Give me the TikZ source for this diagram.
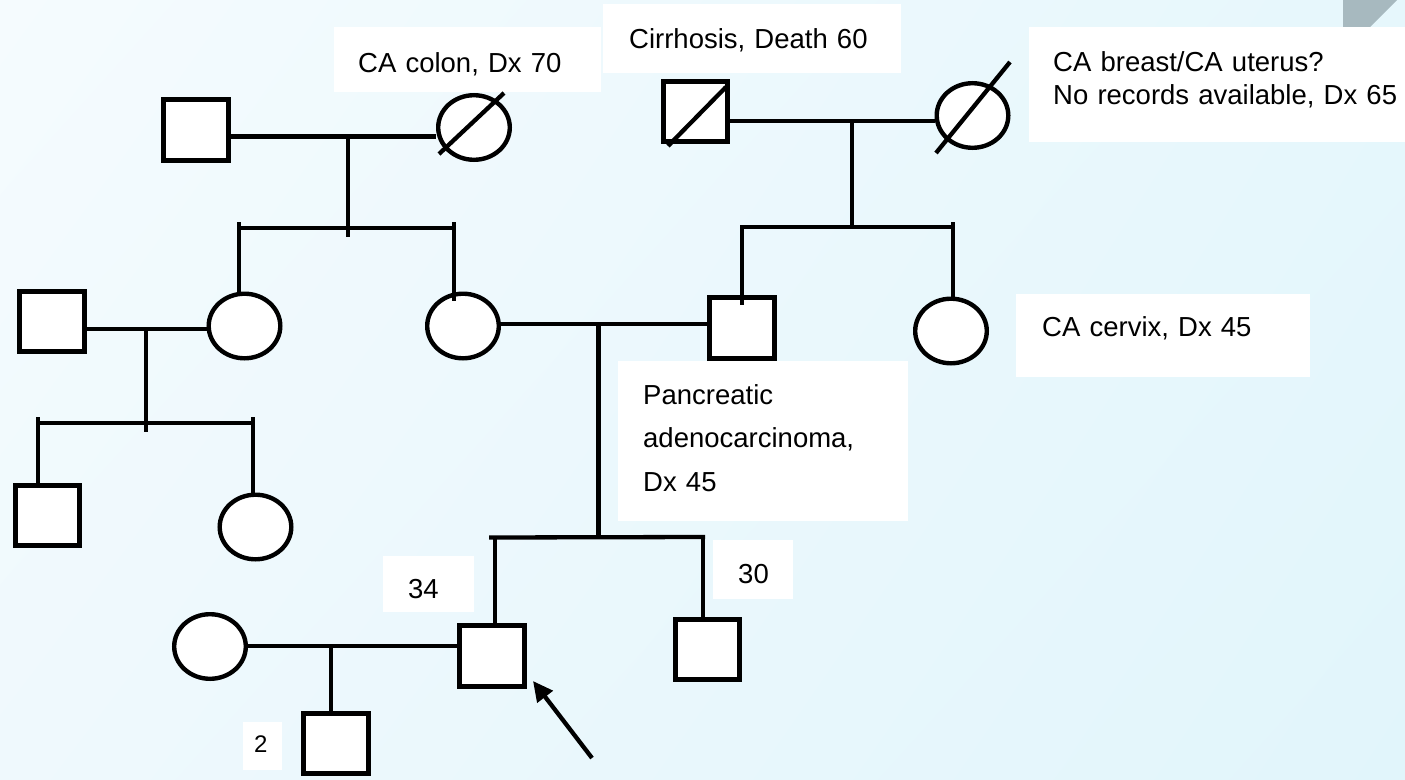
\documentclass[tikz,border=0pt]{standalone}
\usepackage{fontspec}
\setmainfont{Liberation Sans}
\usetikzlibrary{shapes.geometric,arrows.meta,shadings}
\definecolor{bgTL}{HTML}{F5FBFE}
\definecolor{bgTR}{HTML}{E6F7FC}
\definecolor{bgBL}{HTML}{EFF9FD}
\definecolor{bgBR}{HTML}{E1F5FB}
\definecolor{triG}{HTML}{A7B9BF}
\begin{document}
\begin{tikzpicture}[x=1pt,y=-1pt,
  ln/.style={line width=4.3pt, draw=black},
  sq/.style={draw=black, fill=white, line width=4.6pt, minimum width=64.5pt, minimum height=60.5pt, inner sep=0pt},
  ci/.style={ellipse, draw=black, fill=white, line width=4.4pt, minimum width=71.6pt, minimum height=64.6pt, inner sep=0pt},
  lbl/.style={fill=white, inner ysep=0pt, align=left, anchor=north west, text=black, font=\fontsize{27.5}{33}\selectfont},
]
\useasboundingbox (0,0) rectangle (1405,779);
\clip (0,0) rectangle (1405,779);
% background
\shade[upper left=bgTL, upper right=bgTR, lower left=bgBL, lower right=bgBR] (0,0) rectangle (1405,779);
\fill[triG] (1343,0) -- (1397,0) -- (1343,54) -- cycle;

% label boxes
\node[lbl, inner xsep=24pt, text width=219pt, text height=45.2pt, text depth=19.8pt] (b1) at (334,27) {CA colon, Dx 70};
\node[lbl, inner xsep=26pt, text width=246pt, text height=44pt, text depth=25pt] (b2) at (603,4) {Cirrhosis, Death 60};
\node[lbl, inner xsep=24pt, text width=345pt, text height=44pt, text depth=71pt] (b3) at (1029,27) {CA breast/CA uterus?\\No records available, Dx 65};
\node[lbl, inner xsep=26pt, text width=242pt, text height=42pt, text depth=41pt] (b4) at (1016,294) {CA cervix, Dx 45};
\node[lbl, inner xsep=25pt, text width=240pt, text height=43pt, text depth=117pt, font=\fontsize{27.5}{43.5}\selectfont] (b5) at (618,361) {Pancreatic\\adenocarcinoma,\\Dx 45};
\node[lbl, inner xsep=25pt, text width=41pt, text height=42.3pt, text depth=13.7pt] (b6) at (383,556) {34};
\node[lbl, inner xsep=25pt, text width=30pt, text height=43.3pt, text depth=15.7pt] (b7) at (713,540) {30};
\node[lbl, inner xsep=11pt, text width=17pt, text height=30pt, text depth=18pt, font=\fontsize{24}{28}\selectfont] (b8) at (243,722) {2};

% individuals
\node[sq] (gf1) at (196,130) {};
\node[ci] (gm1) at (474,127.5) {};
\node[sq] (gf2) at (695.5,111.5) {};
\node[ci] (gm2) at (972.5,115.5) {};
\node[sq] (uh) at (52,321.5) {};
\node[ci] (aL) at (244.5,326) {};
\node[ci] (mo) at (463,326) {};
\node[sq] (fa) at (742,328) {};
\node[ci] (aR) at (951,331) {};
\node[sq] (cs) at (47.5,515.5) {};
\node[ci] (cd) at (255.5,527) {};
\node[ci] (sp) at (210,646.5) {};
\node[sq] (pb) at (492,656) {};
\node[sq] (sb) at (707.5,649.5) {};
\node[sq] (sn) at (336,743.5) {};

% deceased slashes
\draw[ln] ([shift={(-35,26.5)}]gm1.center) -- ([shift={(30,-34.5)}]gm1.center);
\draw[ln] ([shift={(-36.5,37.5)}]gm2.center) -- ([shift={(37.5,-53.5)}]gm2.center);
\draw[ln] ([shift={(-27.5,34.5)}]gf2.center) -- ([shift={(30.5,-24.5)}]gf2.center);

% generation I, left couple
\coordinate (m1) at (348,136.5);
\coordinate (m1d) at (348,237);
\coordinate (s1a) at (237,228);
\coordinate (s1b) at (456,228);
\coordinate (s1at) at (239,222);
\coordinate (s1ab) at (239,292);
\coordinate (s1bt) at (454,222);
\coordinate (s1bb) at (454,301);
\draw[ln] (gf1.east |- m1) -- (gm1.west |- m1);
\draw[ln] (m1) -- (m1d);
\draw[ln] (s1a) -- (s1b);
\draw[ln] (s1at) -- (s1ab);
\draw[ln] (s1bt) -- (s1bb);

% generation I, right couple
\coordinate (m2) at (852,121);
\coordinate (m2d) at (852,228);
\coordinate (s2a) at (740,227);
\coordinate (s2b) at (955,227);
\coordinate (s2at) at (742,225);
\coordinate (s2ab) at (742,305);
\coordinate (s2bt) at (953,222);
\coordinate (s2bb) at (953,297);
\draw[ln] (gf2.east |- m2) -- (gm2.west |- m2);
\draw[ln] (m2) -- (m2d);
\draw[ln] (s2a) -- (s2b);
\draw[ln] (s2at) -- (s2ab);
\draw[ln] (s2bt) -- (s2bb);

% generation II, aunt and husband
\coordinate (m3) at (146,329);
\coordinate (m3d) at (146,432);
\coordinate (s3a) at (36,423);
\coordinate (s3b) at (255,423);
\coordinate (s3at) at (38,417);
\coordinate (s3ab) at (38,483);
\coordinate (s3bt) at (253,417);
\coordinate (s3bb) at (253,493);
\draw[ln] (uh.east |- m3) -- (aL.west |- m3);
\draw[ln] (m3) -- (m3d);
\draw[ln] (s3a) -- (s3b);
\draw[ln] (s3at) -- (s3ab);
\draw[ln] (s3bt) -- (s3bb);

% generation II, parents
\coordinate (m4) at (598.5,324);
\coordinate (m4d) at (598.5,538);
\coordinate (s4a) at (489,537.5);
\coordinate (s4b) at (705,537);
\coordinate (s4at) at (495,537);
\coordinate (s4ab) at (495,624);
\coordinate (s4bt) at (703,535);
\coordinate (s4bb) at (703,617);
\draw[ln] (mo.east |- m4) -- (fa.west |- m4);
\draw[ln] (m4) -- (m4d);
\draw[ln] (s4a) -- (s4b);
\draw[ln] (s4at) -- (s4ab);
\draw[ln] (s4bt) -- (s4bb);

% generation III
\coordinate (m5) at (331,646);
\coordinate (m5d) at (331,712);
\draw[ln] (sp.east |- m5) -- (pb.west |- m5);
\draw[ln] (m5) -- (m5d);

% proband arrow
\coordinate (arS) at (592,758);
\coordinate (arT) at (533,681);
\draw[ln, -{Triangle[length=20pt,width=19pt]}] (arS) -- (arT);
\end{tikzpicture}
\end{document}
